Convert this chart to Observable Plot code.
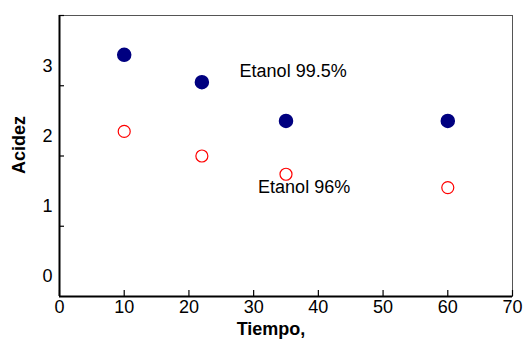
<!DOCTYPE html>
<html><head><meta charset="utf-8">
<script src="https://cdn.jsdelivr.net/npm/d3@7"></script>
<script src="https://cdn.jsdelivr.net/npm/@observablehq/plot@0.6"></script>
<style>
body{margin:0;background:#fff;font-family:"Liberation Sans",Arial,sans-serif;}
#c svg{display:block;}
</style></head>
<body><div id="c"></div>
<script>
const tiempo = [10, 22, 35, 60];
const etanol995 = [3.44, 3.05, 2.5, 2.5];
const etanol96 = [2.35, 2.0, 1.74, 1.55];
const xTicks = [0, 10, 20, 30, 40, 50, 60, 70];
const yTickLabels = [0, 1, 2, 3];
const yTickMarks = [1, 2, 3, 4];
const labelText = ["Etanol 99.5%", "Etanol 96%"];
const labelX = [36.1, 37.8];
const labelY = [3.21, 1.56];

const s995 = tiempo.map((t, i) => ({x: t, y: etanol995[i]}));
const s96 = tiempo.map((t, i) => ({x: t, y: etanol96[i]}));
const notes = labelText.map((t, i) => ({text: t, x: labelX[i], y: labelY[i]}));

const chart = Plot.plot({
  width: 524, height: 344,
  marginLeft: 59, marginRight: 12, marginTop: 15, marginBottom: 48,
  style: {fontFamily: '"Liberation Sans", Arial, sans-serif', fontSize: "18px", color: "#000", background: "#fff"},
  x: {domain: [0, 70]},
  y: {domain: [0, 4]},
  marks: [
    Plot.frame({stroke: "#555", strokeWidth: 1}),
    Plot.axisX(xTicks, {tickSize: -6, tickPadding: 10, fontSize: 18, label: null, strokeWidth: 1.2}),
    Plot.axisY(yTickMarks, {tickSize: -5, tickFormat: () => "", label: null, strokeWidth: 1.2}),
    Plot.axisY(yTickLabels, {tickSize: 0, tickPadding: 7, dy: -20, fontSize: 18, tickFormat: d => String(d), label: null}),
    Plot.ruleX([0], {stroke: "#000", strokeWidth: 2}),
    Plot.ruleY([0], {stroke: "#000", strokeWidth: 2}),
    Plot.dot(s995, {x: "x", y: "y", r: 6.5, fill: "#000080", stroke: "#000080"}),
    Plot.dot(s96, {x: "x", y: "y", r: 6, fill: "#fff", stroke: "#ff0000", strokeWidth: 1.2}),
    Plot.text(notes, {x: "x", y: "y", text: "text", fontSize: 18, fill: "#000"}),
    Plot.text(["Tiempo,"], {frameAnchor: "bottom", dy: 38, dx: -15, fontSize: 18, fontWeight: "bold", fill: "#000"}),
    Plot.text(["Acidez"], {frameAnchor: "left", dx: -40, dy: 18, rotate: -90, fontSize: 18, fontWeight: "bold", fill: "#000"})
  ]
});
document.getElementById("c").appendChild(chart);
</script></body></html>
